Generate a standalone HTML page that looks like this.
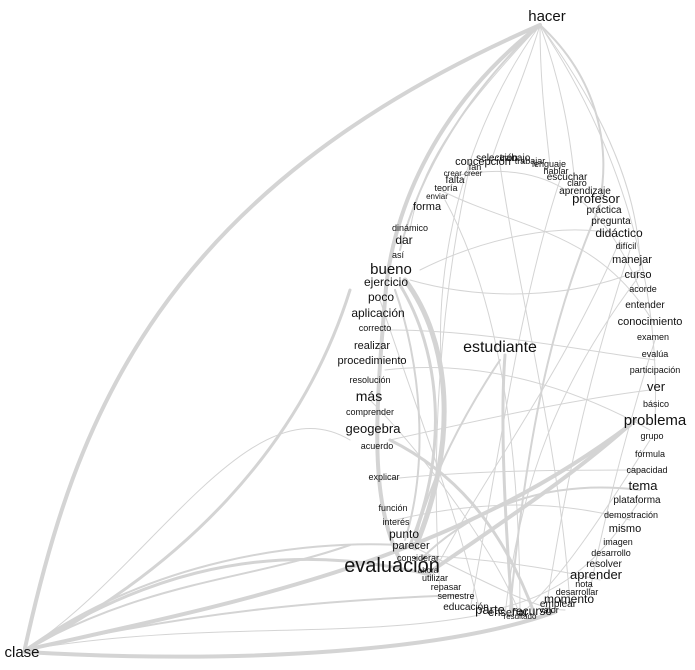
<!DOCTYPE html>
<html><head><meta charset="utf-8"><style>
html,body{margin:0;padding:0;background:#fff;}
svg{display:block;}
text{font-family:"Liberation Sans",Arial,sans-serif;fill:#111;text-anchor:middle;}
</style></head><body>
<svg width="695" height="670" viewBox="0 0 695 670" xmlns="http://www.w3.org/2000/svg">
<g fill="none" stroke="#d4d4d4" stroke-linecap="round">
<path d="M25,648 C75,420 160,190 540,25" stroke-width="4"/>
<path d="M25,650 C180,570 300,450 350,290" stroke-width="3"/>
<path d="M25,650 C150,580 250,580 350,545" stroke-width="2"/>
<path d="M25,650 C120,590 250,530 430,575" stroke-width="3"/>
<path d="M25,650 C250,600 450,560 630,425" stroke-width="4"/>
<path d="M25,652 C250,665 450,650 555,612" stroke-width="4"/>
<path d="M25,650 C200,610 330,600 460,595" stroke-width="2"/>
<path d="M25,650 C150,560 300,540 400,545" stroke-width="2"/>
<path d="M540,25 C430,110 390,220 385,300 C375,420 370,500 400,560" stroke-width="4"/>
<path d="M540,25 C470,90 420,170 400,250" stroke-width="2"/>
<path d="M405,280 C450,340 460,440 415,548" stroke-width="5"/>
<path d="M400,285 C440,350 450,450 410,545" stroke-width="3"/>
<path d="M395,290 C420,360 430,460 405,540" stroke-width="2"/>
<path d="M430,572 C520,510 580,470 635,420" stroke-width="4"/>
<path d="M390,440 C450,470 500,520 535,615" stroke-width="3"/>
<path d="M505,355 C500,420 505,520 512,610" stroke-width="3"/>
<path d="M500,360 C460,420 430,480 415,540" stroke-width="2"/>
<path d="M540,25 C600,80 610,150 600,200" stroke-width="2"/>
<path d="M600,205 C560,300 530,400 510,610" stroke-width="2"/>
<path d="M420,560 C480,500 560,480 640,490" stroke-width="2"/>
<g stroke-width="1">
<path d="M540,25 C450,120 420,170 410,230"/>
<path d="M540,25 C520,90 500,130 490,165"/>
<path d="M540,25 C540,80 545,120 550,165"/>
<path d="M540,25 C560,80 570,130 575,185"/>
<path d="M540,25 C610,120 640,200 640,270"/>
<path d="M540,25 C630,160 660,300 655,420"/>
<path d="M540,25 C450,150 430,300 445,400"/>
<path d="M410,280 C480,300 570,300 640,270"/>
<path d="M420,270 C480,240 560,220 620,235"/>
<path d="M440,190 C520,230 600,230 655,325"/>
<path d="M445,200 C500,300 520,450 520,615"/>
<path d="M470,165 C440,300 430,450 440,590"/>
<path d="M500,165 C520,300 560,450 570,605"/>
<path d="M560,180 C520,300 500,450 470,610"/>
<path d="M620,240 C560,380 480,480 430,580"/>
<path d="M640,275 C560,380 520,480 505,615"/>
<path d="M390,440 C480,420 570,400 650,390"/>
<path d="M385,370 C470,360 560,380 650,430"/>
<path d="M390,330 C480,330 580,350 655,360"/>
<path d="M380,480 C470,470 560,470 645,470"/>
<path d="M395,520 C480,500 560,500 630,520"/>
<path d="M420,555 C500,560 560,570 600,580"/>
<path d="M410,545 C500,590 540,610 565,610"/>
<path d="M650,440 C600,520 560,580 520,615"/>
<path d="M640,500 C600,560 560,600 480,612"/>
<path d="M655,340 C620,450 600,540 590,590"/>
<path d="M630,250 C580,400 560,520 545,615"/>
<path d="M460,175 C540,160 600,190 640,290"/>
<path d="M380,300 C420,420 460,520 480,612"/>
<path d="M370,400 C430,460 500,560 520,615"/>
<path d="M25,650 C200,620 350,640 480,615"/>
<path d="M25,650 C150,570 250,380 350,440"/>
</g>
</g>
<g>
<text x="547" y="21" font-size="15">hacer</text>
<text x="22" y="657" font-size="15">clase</text>
<text x="500" y="352" font-size="16">estudiante</text>
<text x="392" y="572" font-size="20">evaluación</text>
<text x="391" y="274" font-size="15">bueno</text>
<text x="386" y="286" font-size="12">ejercicio</text>
<text x="381" y="301" font-size="12">poco</text>
<text x="378" y="317" font-size="12">aplicación</text>
<text x="375" y="331" font-size="9">correcto</text>
<text x="372" y="349" font-size="11">realizar</text>
<text x="372" y="364" font-size="11">procedimiento</text>
<text x="370" y="383" font-size="9">resolución</text>
<text x="369" y="401" font-size="14">más</text>
<text x="370" y="415" font-size="9">comprender</text>
<text x="373" y="433" font-size="13">geogebra</text>
<text x="377" y="449" font-size="9">acuerdo</text>
<text x="384" y="480" font-size="9">explicar</text>
<text x="393" y="511" font-size="9">función</text>
<text x="396" y="525" font-size="9">interés</text>
<text x="404" y="538" font-size="12">punto</text>
<text x="411" y="549" font-size="11">parecer</text>
<text x="418" y="561" font-size="9">considerar</text>
<text x="428" y="573" font-size="8">ahora</text>
<text x="435" y="581" font-size="9">utilizar</text>
<text x="446" y="590" font-size="9">repasar</text>
<text x="456" y="599" font-size="9">semestre</text>
<text x="466" y="610" font-size="10">educación</text>
<text x="490" y="614" font-size="13">parte</text>
<text x="508" y="616" font-size="11">enseñar</text>
<text x="532" y="615" font-size="12">recurso</text>
<text x="520" y="619" font-size="8">resultado</text>
<text x="558" y="607" font-size="10">emplear</text>
<text x="549" y="613" font-size="9">valor</text>
<text x="569" y="603" font-size="12">momento</text>
<text x="577" y="595" font-size="9">desarrollar</text>
<text x="584" y="587" font-size="9">nota</text>
<text x="596" y="579" font-size="13">aprender</text>
<text x="604" y="567" font-size="10">resolver</text>
<text x="611" y="556" font-size="9">desarrollo</text>
<text x="618" y="545" font-size="9">imagen</text>
<text x="625" y="532" font-size="11">mismo</text>
<text x="631" y="518" font-size="9">demostración</text>
<text x="637" y="503" font-size="10">plataforma</text>
<text x="643" y="490" font-size="13">tema</text>
<text x="647" y="473" font-size="9">capacidad</text>
<text x="650" y="457" font-size="9">fórmula</text>
<text x="652" y="439" font-size="9">grupo</text>
<text x="655" y="425" font-size="15">problema</text>
<text x="656" y="407" font-size="9">básico</text>
<text x="656" y="391" font-size="13">ver</text>
<text x="655" y="373" font-size="9">participación</text>
<text x="655" y="357" font-size="9">evalúa</text>
<text x="653" y="340" font-size="9">examen</text>
<text x="650" y="325" font-size="11">conocimiento</text>
<text x="645" y="308" font-size="10">entender</text>
<text x="643" y="292" font-size="9">acorde</text>
<text x="638" y="278" font-size="11">curso</text>
<text x="632" y="263" font-size="11">manejar</text>
<text x="626" y="249" font-size="9">difícil</text>
<text x="619" y="237" font-size="12">didáctico</text>
<text x="611" y="224" font-size="10">pregunta</text>
<text x="604" y="213" font-size="10">práctica</text>
<text x="596" y="203" font-size="13">profesor</text>
<text x="585" y="194" font-size="10">aprendizaje</text>
<text x="577" y="186" font-size="9">claro</text>
<text x="567" y="180" font-size="10">escuchar</text>
<text x="556" y="174" font-size="9">hablar</text>
<text x="549" y="167" font-size="9">lenguaje</text>
<text x="530" y="164" font-size="9">trabajar</text>
<text x="515" y="161" font-size="10">trabajo</text>
<text x="497" y="161" font-size="10">selección</text>
<text x="483" y="165" font-size="11">concepción</text>
<text x="475" y="170" font-size="9">fan</text>
<text x="463" y="176" font-size="8">crear creer</text>
<text x="455" y="183" font-size="10">falta</text>
<text x="446" y="191" font-size="9">teoría</text>
<text x="437" y="199" font-size="8">enviar</text>
<text x="427" y="210" font-size="11">forma</text>
<text x="410" y="231" font-size="9">dinámico</text>
<text x="404" y="244" font-size="12">dar</text>
<text x="398" y="258" font-size="9">así</text>
</g>
</svg>
</body></html>
